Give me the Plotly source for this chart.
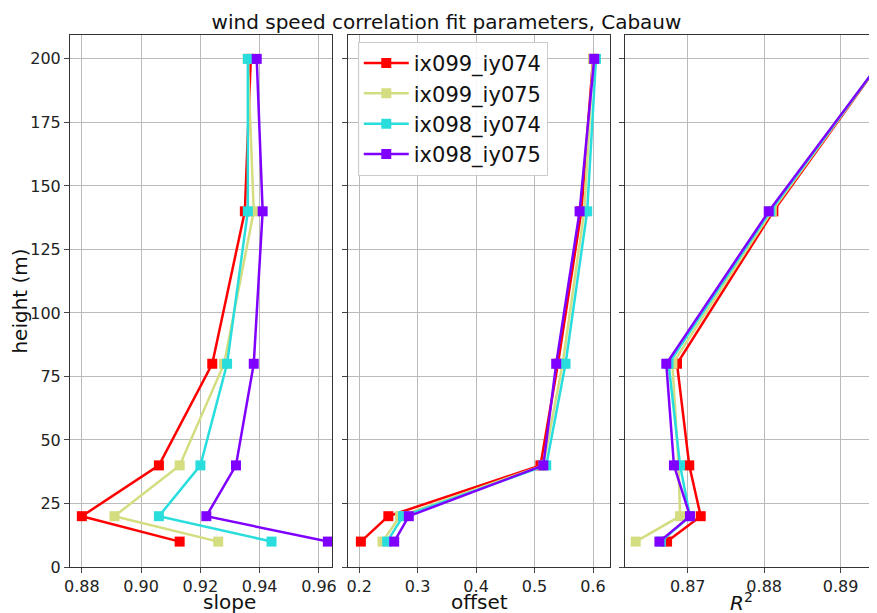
import plotly.graph_objects as go
from plotly.subplots import make_subplots

heights = [10, 20, 40, 80, 140, 200]
names = ["ix099_iy074", "ix099_iy075", "ix098_iy074", "ix098_iy075"]
colors = ["#ff0000", "#d4dd80", "#2adddd", "#8000ff"]
slope = [
    [0.913, 0.880, 0.906, 0.924, 0.935, 0.937],
    [0.926, 0.891, 0.913, 0.928, 0.938, 0.936],
    [0.944, 0.906, 0.920, 0.929, 0.936, 0.936],
    [0.963, 0.922, 0.932, 0.938, 0.941, 0.939],
]
offset = [
    [0.203, 0.250, 0.510, 0.540, 0.580, 0.600],
    [0.240, 0.270, 0.515, 0.548, 0.585, 0.600],
    [0.248, 0.275, 0.520, 0.553, 0.590, 0.605],
    [0.260, 0.285, 0.515, 0.537, 0.577, 0.602],
]
r2 = [
    [0.8673, 0.8717, 0.8702, 0.8686, 0.8812, 0.8955],
    [0.8632, 0.8690, 0.8688, 0.8680, 0.8810, 0.8955],
    [0.8665, 0.8703, 0.8690, 0.8675, 0.8808, 0.8955],
    [0.8663, 0.8703, 0.8682, 0.8672, 0.8806, 0.8955],
]
xtitles = ["slope", "offset", "<i>R</i><sup>2</sup>"]

fig = make_subplots(rows=1, cols=3, shared_yaxes=True, horizontal_spacing=0.02)
for col, data in enumerate([slope, offset, r2], start=1):
    for i in range(4):
        fig.add_trace(go.Scatter(x=data[i], y=heights, mode="lines+markers", name=names[i],
                                 line=dict(color=colors[i], width=2.5),
                                 marker=dict(symbol="square", size=10, color=colors[i]),
                                 showlegend=(col == 1)), row=1, col=col)

ax = dict(showline=True, linecolor="#333", mirror=True, gridcolor="#bbb", ticks="outside",
          tickfont=dict(size=16, color="#222"), zeroline=False, automargin=False)
fig.update_xaxes(**ax)
fig.update_yaxes(**ax)
fig.update_xaxes(range=[0.876, 0.9644], tickvals=[0.88, 0.90, 0.92, 0.94, 0.96], tickformat=".2f", row=1, col=1)
fig.update_xaxes(range=[0.181, 0.629], tickvals=[0.2, 0.3, 0.4, 0.5, 0.6], tickformat=".1f", row=1, col=2)
fig.update_xaxes(range=[0.8618, 0.8958], tickvals=[0.87, 0.88, 0.89], tickformat=".2f", row=1, col=3)
fig.update_yaxes(range=[0, 209.4], tickvals=[0, 25, 50, 75, 100, 125, 150, 175, 200])
fig.update_yaxes(title=dict(text="height (m)", font=dict(size=20), standoff=8), row=1, col=1)

W = 815
doms = [[0, 262/W], [278/W, 540/W], [555/W, 1]]
for k in range(3):
    fig.update_xaxes(domain=doms[k], row=1, col=k + 1)
    fig.add_annotation(text=xtitles[k], x=(doms[k][0] + doms[k][1]) / 2, xref="paper",
                       y=-0.066, yref="paper", yanchor="middle", showarrow=False,
                       font=dict(size=20, color="#111"))

fig.update_layout(
    width=877, height=613, paper_bgcolor="white", plot_bgcolor="white",
    font=dict(family="DejaVu Sans", color="#111"),
    margin=dict(l=62, r=0, t=27, b=54),
    title=dict(text="wind speed correlation fit parameters, Cabauw", x=0.5, xanchor="center",
               y=0.989, yanchor="top", font=dict(size=20)),
    legend=dict(x=278/W + 0.012, y=0.987, xanchor="left", yanchor="top", font=dict(size=21),
                itemwidth=45, bgcolor="rgba(255,255,255,0.9)", bordercolor="#ccc", borderwidth=1),
)
fig.write_html("out.html")
